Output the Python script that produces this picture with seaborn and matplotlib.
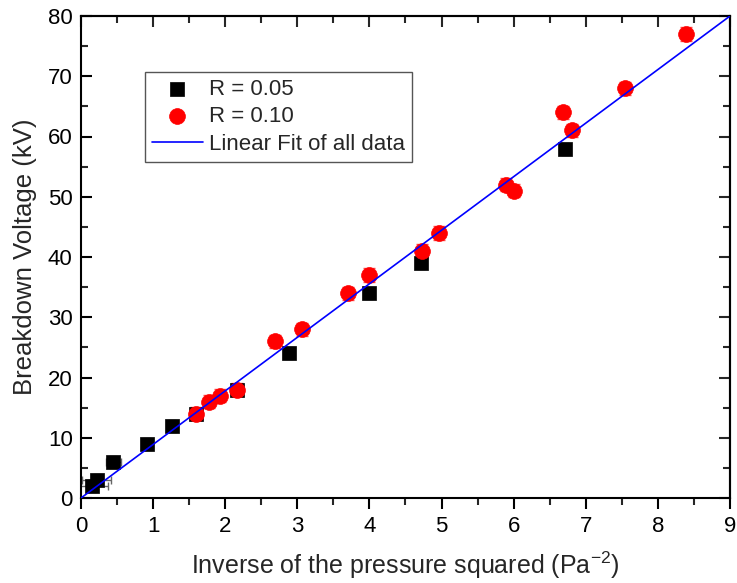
import matplotlib
matplotlib.use("Agg")
import matplotlib.pyplot as plt
import seaborn as sns
import numpy as np
import pandas as pd
from matplotlib.ticker import MultipleLocator

# ---- data ----
x_r005 = [0.15, 0.22, 0.45, 0.91, 1.26, 1.60, 2.16, 2.88, 4.00, 4.71, 6.71]
y_r005 = [2, 3, 6, 9, 12, 14, 18, 24, 34, 39, 58]
xerr_r005 = [0.22, 0.2, 0.1, 0, 0, 0, 0, 0, 0, 0, 0]
yerr_r005 = [1.0] * 11

x_r010 = [1.60, 1.78, 1.93, 2.16, 2.69, 3.07, 3.70, 4.00, 4.73, 4.96, 5.89, 6.01, 6.68, 6.81, 7.54, 8.39]
y_r010 = [14, 16, 17, 18, 26, 28, 34, 37, 41, 44, 52, 51, 64, 61, 68, 77]
yerr_r010 = [1.1] * 16

fit_x = [0, 9]
fit_y = [0, 80]

sns.set_style("white")
plt.rcParams['font.family'] = ['Liberation Sans', 'DejaVu Sans']
plt.rcParams['mathtext.fontset'] = 'custom'
plt.rcParams['mathtext.rm'] = 'Liberation Sans'
plt.rcParams['mathtext.it'] = 'Liberation Sans:italic'

fig = plt.figure(figsize=(7.37, 5.83), dpi=100)
ax = fig.add_axes([81/737, 85/583, 649/737, 482/583])

df1 = pd.DataFrame({"x": x_r005, "y": y_r005})
df2 = pd.DataFrame({"x": x_r010, "y": y_r010})
dfit = pd.DataFrame({"x": fit_x, "y": fit_y})

# error bars
ax.errorbar(x_r005, y_r005, xerr=xerr_r005, yerr=yerr_r005, fmt='none',
            ecolor='#666666', elinewidth=1, capsize=3, zorder=2)
ax.errorbar(x_r010, y_r010, yerr=yerr_r010, fmt='none',
            ecolor='#ff5050', elinewidth=1, capsize=4, zorder=2)

sns.scatterplot(data=df1, x="x", y="y", marker="s", color="black", s=110,
                edgecolor="black", linewidth=0.5, label="R = 0.05", ax=ax, zorder=3)
sns.scatterplot(data=df2, x="x", y="y", marker="o", color="#ff0000", s=130,
                edgecolor="#ff0000", linewidth=0.5, label="R = 0.10", ax=ax, zorder=4)
sns.lineplot(data=dfit, x="x", y="y", color="#0000ff", linewidth=1.2,
             label="Linear Fit of all data", ax=ax, zorder=5)

ax.set_xlim(0, 9)
ax.set_ylim(0, 80)
ax.xaxis.set_major_locator(MultipleLocator(1))
ax.xaxis.set_minor_locator(MultipleLocator(0.5))
ax.yaxis.set_major_locator(MultipleLocator(10))
ax.yaxis.set_minor_locator(MultipleLocator(5))

for sp in ax.spines.values():
    sp.set_color('black')
    sp.set_linewidth(1.5)

ax.tick_params(axis='x', which='major', direction='out', length=8, width=1.5,
               labelsize=16, bottom=True, pad=5, colors='black')
ax.tick_params(axis='x', which='minor', direction='out', length=5, width=1.5, bottom=True)
ax.tick_params(axis='y', which='major', direction='in', length=8, width=1.5,
               labelsize=16, left=True, pad=6, colors='black')
ax.tick_params(axis='y', which='minor', direction='in', length=5, width=1.5, left=True)

# top and right inward ticks
secx = ax.secondary_xaxis('top')
secx.xaxis.set_major_locator(MultipleLocator(1))
secx.xaxis.set_minor_locator(MultipleLocator(0.5))
secx.tick_params(which='major', direction='in', length=8, width=1.5, labeltop=False)
secx.tick_params(which='minor', direction='in', length=5, width=1.5)
secx.spines['top'].set_linewidth(1.5)
secy = ax.secondary_yaxis('right')
secy.yaxis.set_major_locator(MultipleLocator(10))
secy.yaxis.set_minor_locator(MultipleLocator(5))
secy.tick_params(which='major', direction='in', length=8, width=1.5, labelright=False)
secy.tick_params(which='minor', direction='in', length=5, width=1.5)
secy.spines['right'].set_linewidth(1.5)

ax.set_xlabel(r"Inverse of the pressure squared (Pa$^{\mathregular{-2}}$)", fontsize=18, labelpad=9)
ax.set_ylabel("Breakdown Voltage (kV)", fontsize=18.5, labelpad=8)

leg = ax.legend(loc='upper left', bbox_to_anchor=((145 - 81) / 649, (498 - 72) / 482),
                borderaxespad=0, fontsize=16,
                frameon=True, fancybox=False, edgecolor='#555555', framealpha=1,
                borderpad=0.3, handlelength=2.3, handletextpad=0.3, labelspacing=0.3)
leg.get_frame().set_linewidth(1.0)

fig.savefig("out.png", dpi=100)
